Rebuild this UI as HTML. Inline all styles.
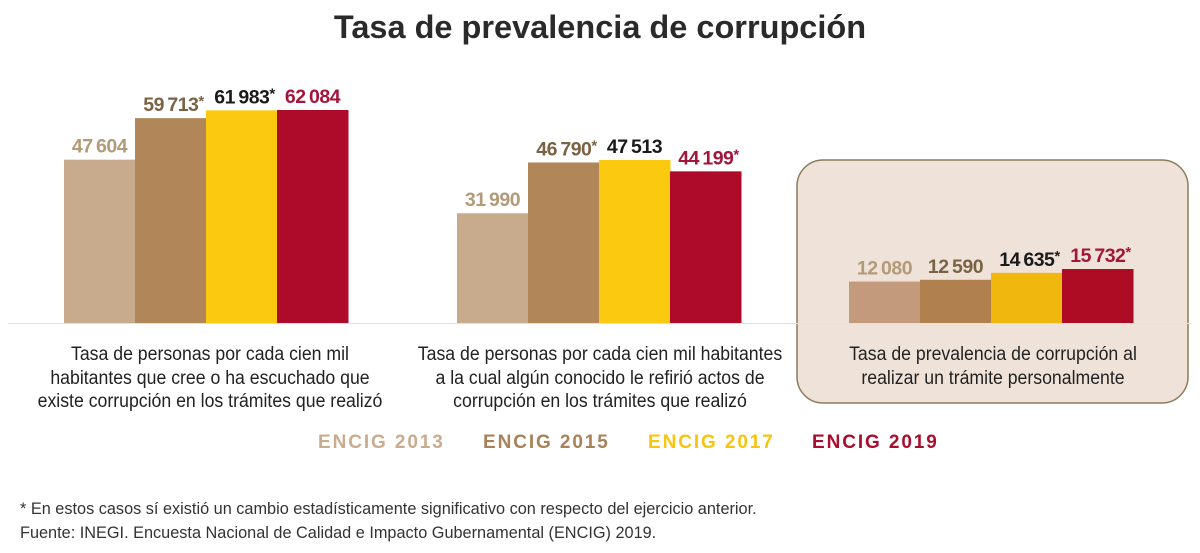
<!DOCTYPE html>
<html><head><meta charset="utf-8">
<style>
html,body{margin:0;padding:0;background:#fff;}
body{width:1200px;height:553px;position:relative;overflow:hidden;font-family:"Liberation Sans",sans-serif;}
.t{position:absolute;white-space:nowrap;}
.cat{position:absolute;text-align:center;font-size:19px;line-height:23.5px;color:#222;white-space:nowrap;transform:scaleX(0.93);transform-origin:center top;}
.leg{position:absolute;top:432px;font-weight:bold;font-size:19px;letter-spacing:1.9px;white-space:nowrap;}
</style></head><body>
<div class="t" style="left:0;width:1200px;text-align:center;top:9px;font-size:32.5px;font-weight:bold;color:#2a2a2a;">Tasa de prevalencia de corrupción</div>
<svg id="chart" width="1200" height="553" style="position:absolute;left:0;top:0">
<rect x="797" y="160" width="391" height="243" rx="26" ry="26" fill="#efe3d9" stroke="#8c7b5c" stroke-width="1.5"/>
<line x1="8" y1="323.5" x2="1192" y2="323.5" stroke="#e2e2e2" stroke-width="1"/>
</svg>
<div class="cat" style="left:10px;width:400px;top:343px;">Tasa de personas por cada cien mil<br>habitantes que cree o ha escuchado que<br>existe corrupción en los trámites que realizó</div>
<div class="cat" style="left:400px;width:400px;top:343px;">Tasa de personas por cada cien mil habitantes<br>a la cual algún conocido le refirió actos de<br>corrupción en los trámites que realizó</div>
<div class="cat" style="left:793px;width:400px;top:343px;">Tasa de prevalencia de corrupción al<br>realizar un trámite personalmente</div>
<div class="leg" style="left:318px;color:#c9ab8e;">ENCIG 2013</div>
<div class="leg" style="left:483px;color:#a98158;">ENCIG 2015</div>
<div class="leg" style="left:648px;color:#f7c40f;">ENCIG 2017</div>
<div class="leg" style="left:812px;color:#ab0d2c;">ENCIG 2019</div>
<div class="t" style="left:20px;top:500px;font-size:16.3px;color:#333;">* En estos casos sí existió un cambio estadísticamente significativo con respecto del ejercicio anterior.</div>
<div class="t" style="left:20px;top:524px;font-size:16.3px;color:#333;">Fuente: INEGI. Encuesta Nacional de Calidad e Impacto Gubernamental (ENCIG) 2019.</div>
<script>
const categories = ["personas-escuchado","conocido-refirio","prevalencia-tramite"];
const series2013 = [47604, 31990, 12080];
const series2015 = [59713, 46790, 12590];
const series2017 = [61983, 47513, 14635];
const series2019 = [62084, 44199, 15732];
const sig2013 = [false,false,false];
const sig2015 = [true,true,false];
const sig2017 = [true,false,true];
const sig2019 = [false,true,true];
const seriesNames = ["2013","2015","2017","2019"];

const svg = document.getElementById('chart');
const NS = 'http://www.w3.org/2000/svg';
const baseY = 323;
const yScale = v => v * (213/62084);
const groupX = i => [64, 457, 849][i];
const barW = 71;
const fills = ["#c8aa8d","#b1875a","#fbc90f","#ae0b2a"];
const fills3 = ["#c39a7c","#b0804f","#f0b80f","#ae0b25"];
const labelColors = ["#b39a78","#7a6244","#1a1a1a","#a3163c"];
const allSeries = [series2013, series2015, series2017, series2019];
const allSig = [sig2013, sig2015, sig2017, sig2019];
function fmt(v){const s=String(v);return s.length>3? s.slice(0,s.length-3)+"\u2009"+s.slice(-3):s;}
categories.forEach((c,i)=>{
  allSeries.forEach((ser,s)=>{
    const h = yScale(ser[i]);
    const x = groupX(i) + s*barW;
    const r = document.createElementNS(NS,'rect');
    r.setAttribute('x', x); r.setAttribute('y', baseY - h);
    r.setAttribute('width', barW+0.5); r.setAttribute('height', h);
    r.setAttribute('fill', i===2 ? fills3[s] : fills[s]);
    
    
    svg.appendChild(r);
    const sig = allSig[s][i];
    const t = document.createElementNS(NS,'text');
    t.setAttribute('x', x + barW/2 + (sig?3:0));
    t.setAttribute('y', baseY - h - 7);
    t.setAttribute('text-anchor','middle');
    t.setAttribute('font-family','"Liberation Sans",sans-serif');
    t.setAttribute('font-weight','bold');
    t.setAttribute('font-size','19.5');
    t.setAttribute('letter-spacing','-0.5');
    t.setAttribute('fill', labelColors[s]);
    t.textContent = fmt(ser[i]);
    
    
    if (sig) {
      const a = document.createElementNS(NS,'tspan');
      a.setAttribute('dy','-5');
      a.setAttribute('font-size','15');
      a.textContent = '*';
      t.appendChild(a);
    }
    svg.appendChild(t);
  });
});
</script>
</body></html>
